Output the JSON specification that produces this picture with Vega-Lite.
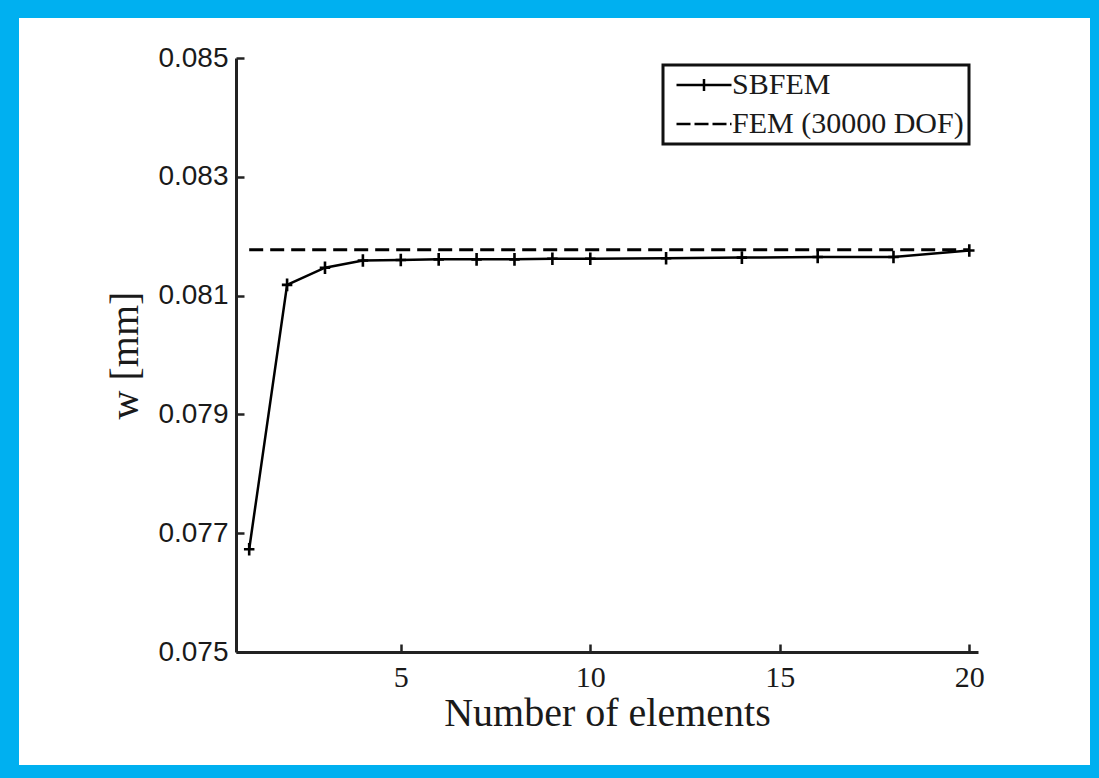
{
  "$schema": "https://vega.github.io/schema/vega-lite/v6.json",
  "width": 1071,
  "height": 747,
  "autosize": {"type": "none"},
  "padding": {"left": 19, "top": 18, "right": 9, "bottom": 13},
  "background": "#00B0F0",
  "view": {"fill": "white", "stroke": null},
  "datasets": {
    "sbfem": [
      {"n": 1, "w": 0.07673},
      {"n": 2, "w": 0.08118},
      {"n": 3, "w": 0.08147},
      {"n": 4, "w": 0.08159},
      {"n": 5, "w": 0.0816},
      {"n": 6, "w": 0.08161},
      {"n": 7, "w": 0.08161},
      {"n": 8, "w": 0.08161},
      {"n": 9, "w": 0.08162},
      {"n": 10, "w": 0.08162},
      {"n": 12, "w": 0.08163},
      {"n": 14, "w": 0.08164},
      {"n": 16, "w": 0.08165},
      {"n": 18, "w": 0.08165},
      {"n": 20, "w": 0.08176}
    ],
    "fem": [
      {"n": 1, "w": 0.08177},
      {"n": 20, "w": 0.08177}
    ],
    "legendkeys": [
      {"series": "SBFEM"},
      {"series": "FEM (30000 DOF)"}
    ]
  },
  "layer": [
    {
      "data": {"name": "fem"},
      "mark": {"type": "line", "color": "black", "strokeWidth": 3, "strokeDash": [14, 7]},
      "encoding": {
        "x": {
          "field": "n", "type": "quantitative",
          "scale": {"domain": [0.652, 20.23], "range": [217, 959], "nice": false, "zero": false},
          "axis": {
            "values": [5, 10, 15, 20],
            "offset": -113,
            "title": "Number of elements",
            "titleFont": "Liberation Serif", "titleFontSize": 40, "titleFontWeight": "normal", "titleColor": "#1a1a1a",
            "titlePadding": 1,
            "labelFont": "Liberation Serif", "labelFontSize": 30, "labelColor": "#1a1a1a",
            "labelPadding": 18,
            "tickSize": -8, "tickWidth": 2.5, "tickColor": "#222",
            "domainColor": "#222", "domainWidth": 3,
            "grid": false
          }
        },
        "y": {
          "field": "w", "type": "quantitative",
          "scale": {"domain": [0.075, 0.085], "range": [634, 40], "nice": false, "zero": false},
          "axis": {
            "values": [0.075, 0.077, 0.079, 0.081, 0.083, 0.085],
            "format": ".3f",
            "offset": -217,
            "title": "w [mm]",
            "titleFont": "Liberation Serif", "titleFontSize": 40, "titleFontWeight": "normal", "titleColor": "#1a1a1a",
            "titlePadding": 12,
            "labelFont": "Liberation Sans", "labelFontSize": 28, "labelColor": "#1a1a1a",
            "labelPadding": 16,
            "tickSize": -8, "tickWidth": 2.5, "tickColor": "#222",
            "domainColor": "#222", "domainWidth": 3,
            "grid": false
          }
        }
      }
    },
    {
      "data": {"name": "sbfem"},
      "mark": {"type": "line", "color": "black", "strokeWidth": 2.5},
      "encoding": {
        "x": {"field": "n", "type": "quantitative"},
        "y": {"field": "w", "type": "quantitative"}
      }
    },
    {
      "data": {"name": "sbfem"},
      "mark": {"type": "point", "shape": "M-1,0L1,0M0,-1.2L0,1.2", "size": 110, "filled": false, "color": "black", "strokeWidth": 2.6, "opacity": 1},
      "encoding": {
        "x": {"field": "n", "type": "quantitative"},
        "y": {"field": "w", "type": "quantitative"}
      }
    },
    {
      "data": {"name": "legendkeys"},
      "transform": [{"filter": "datum.series == 'none'"}],
      "mark": {"type": "point", "filled": false, "color": "black", "strokeWidth": 2.5, "opacity": 1},
      "encoding": {
        "shape": {
          "field": "series", "type": "nominal",
          "scale": {
            "domain": ["SBFEM", "FEM (30000 DOF)"],
            "range": ["M-2.75,0L2.75,0M0,-0.6L0,0.6", "M-2.75,0L-1.35,0M-0.95,0L0.45,0M0.85,0L2.25,0M2.6,0L2.75,0"]
          },
          "legend": {
            "title": null,
            "orient": "none",
            "legendX": 644,
            "legendY": 47,
            "strokeColor": "#111",
            "fillColor": "white",
            "padding": 5,
            "rowPadding": 9,
            "symbolSize": 400,
            "symbolOffset": 21,
            "symbolStrokeWidth": 2.5,
            "symbolStrokeColor": "black",
            "symbolFillColor": "transparent",
            "labelOffset": 13,
            "labelFont": "Liberation Serif",
            "labelFontSize": 30,
            "labelColor": "#1a1a1a",
            "labelLimit": 400
          }
        }
      }
    }
  ],
  "config": {
    "legend": {"strokeWidth": 3}
  }
}
